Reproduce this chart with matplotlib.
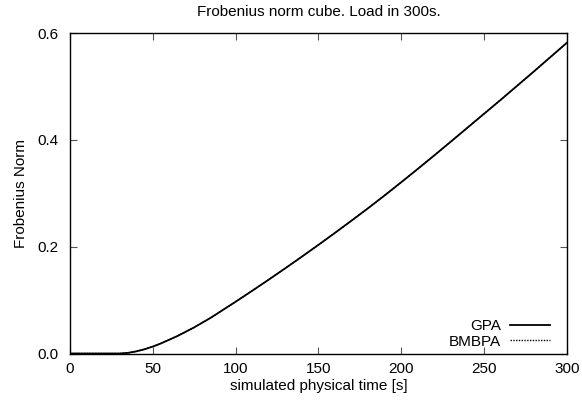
import numpy as np
import matplotlib.pyplot as plt

plt.rcParams['font.family'] = ['Liberation Sans', 'DejaVu Sans']

# time [s] and Frobenius norm
t = [0, 10, 20, 30, 35, 40, 45, 50, 55, 60, 65, 70, 75, 80, 85, 90, 95,
     100, 110, 120, 130, 140, 150, 160, 170, 180, 190, 200, 210, 220,
     230, 240, 250, 260, 270, 280, 290, 300]
gpa = [0.0, 0.0, 0.0, 0.0, 0.0012, 0.004, 0.008, 0.013, 0.019, 0.026,
       0.033, 0.041, 0.049, 0.058, 0.067, 0.077, 0.087,
       0.097, 0.1175, 0.1384, 0.1597, 0.1814, 0.2035, 0.226, 0.2489,
       0.2722, 0.2962, 0.3208, 0.3458, 0.3712,
       0.397, 0.423, 0.449, 0.475, 0.5015, 0.528, 0.555, 0.582]
bmbpa = [0.0, 0.0, 0.0, 0.0, 0.0012, 0.004, 0.008, 0.013, 0.019, 0.026,
         0.033, 0.041, 0.049, 0.058, 0.067, 0.077, 0.087,
         0.097, 0.1175, 0.1384, 0.1597, 0.1814, 0.2035, 0.226, 0.2489,
         0.2722, 0.2962, 0.3208, 0.3458, 0.3712,
         0.397, 0.423, 0.449, 0.475, 0.5015, 0.528, 0.555, 0.582]

xticks = [0, 50, 100, 150, 200, 250, 300]
yticks = [0.0, 0.2, 0.4, 0.6]

fig = plt.figure(figsize=(5.82, 4.03), dpi=100)
ax = fig.add_axes([0.1203, 0.1228, 0.8539, 0.7952])

ax.plot(t, gpa, color='black', lw=1.3, label='GPA')
ax.plot(t, bmbpa, color='black', lw=1.0, ls=(0, (1, 1)), label='BMBPA')

ax.set_xlim(0, 300)
ax.set_ylim(0, 0.6)
ax.set_xticks(xticks)
ax.set_yticks(yticks)
ax.set_yticklabels(['%.1f' % v for v in yticks])
ax.tick_params(direction='in', top=True, right=True, length=5, width=0.8,
               color='#555555', labelsize=11)
ax.tick_params(axis='x', pad=6)
ax.tick_params(axis='y', pad=8)
for s in ax.spines.values():
    s.set_linewidth(1.0)

ax.set_xlabel('simulated physical time [s]', fontsize=11, labelpad=2)
ax.set_ylabel('Frobenius Norm', fontsize=11, labelpad=7)
ax.set_title('Frobenius norm cube. Load in 300s.', fontsize=11, pad=12)

ax.legend(loc='lower right', frameon=False, markerfirst=False, fontsize=11,
          handlelength=2.6, labelspacing=0.1, borderaxespad=0, borderpad=0,
          handletextpad=0.6, bbox_to_anchor=(0.966, 0.015))

plt.savefig('out.png', dpi=100)
